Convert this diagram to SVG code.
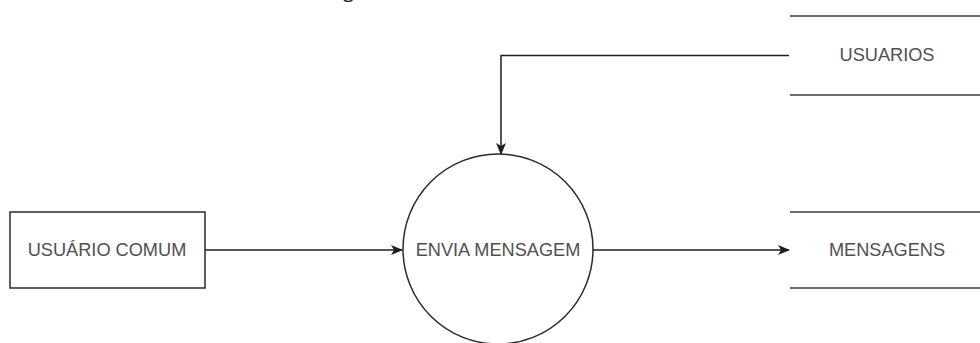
<svg xmlns="http://www.w3.org/2000/svg" width="980" height="343" viewBox="0 0 980 343">
  <style>
    .shape { fill: #ffffff; stroke: #2b2b2b; stroke-width: 1.5; }
    .store { stroke: #6e6e6e; stroke-width: 2.2; fill: none; }
    .label { font-family: "Liberation Sans", Arial, sans-serif; font-size: 18.2px; fill: #505050; text-anchor: middle; dominant-baseline: central; }
    .edge { fill: none; stroke: #1e1e1e; stroke-width: 1.5; }
  </style>
  <defs>
    <marker id="arrow" viewBox="0 0 12 10" refX="11" refY="5" markerWidth="12" markerHeight="10" markerUnits="userSpaceOnUse" orient="auto">
      <path d="M0,0 L12,5 L0,10 L3,5 Z" fill="#1e1e1e"/>
    </marker>
  </defs>
  <rect width="980" height="343" fill="#ffffff"/>

  <!-- descender of the caption line above the frame -->
  <text x="343" y="-3" font-family="'Open Sans', 'Liberation Sans', sans-serif" font-size="20" fill="#1a1a1a">g</text>

  <g id="usuario-comum">
    <rect class="shape" x="10" y="212" width="195" height="76"/>
    <text class="label" x="107" y="250">USUÁRIO COMUM</text>
  </g>

  <g id="envia-mensagem">
    <circle class="shape" cx="498" cy="249" r="95"/>
    <text class="label" x="498" y="250">ENVIA MENSAGEM</text>
  </g>

  <g id="usuarios">
    <line class="store" x1="790" y1="16" x2="980" y2="16"/>
    <line class="store" x1="790" y1="95" x2="980" y2="95"/>
    <text class="label" x="887" y="55">USUARIOS</text>
  </g>

  <g id="mensagens">
    <line class="store" x1="790" y1="212" x2="980" y2="212"/>
    <line class="store" x1="790" y1="288" x2="980" y2="288"/>
    <text class="label" x="887" y="250">MENSAGENS</text>
  </g>

  <g id="connectors">
    <path class="edge" d="M205,250 L402,250" marker-end="url(#arrow)"/>
    <path class="edge" d="M593,250 L789,250" marker-end="url(#arrow)"/>
    <path class="edge" d="M789,55.5 L501,55.5 L501,154" marker-end="url(#arrow)"/>
  </g>
</svg>
